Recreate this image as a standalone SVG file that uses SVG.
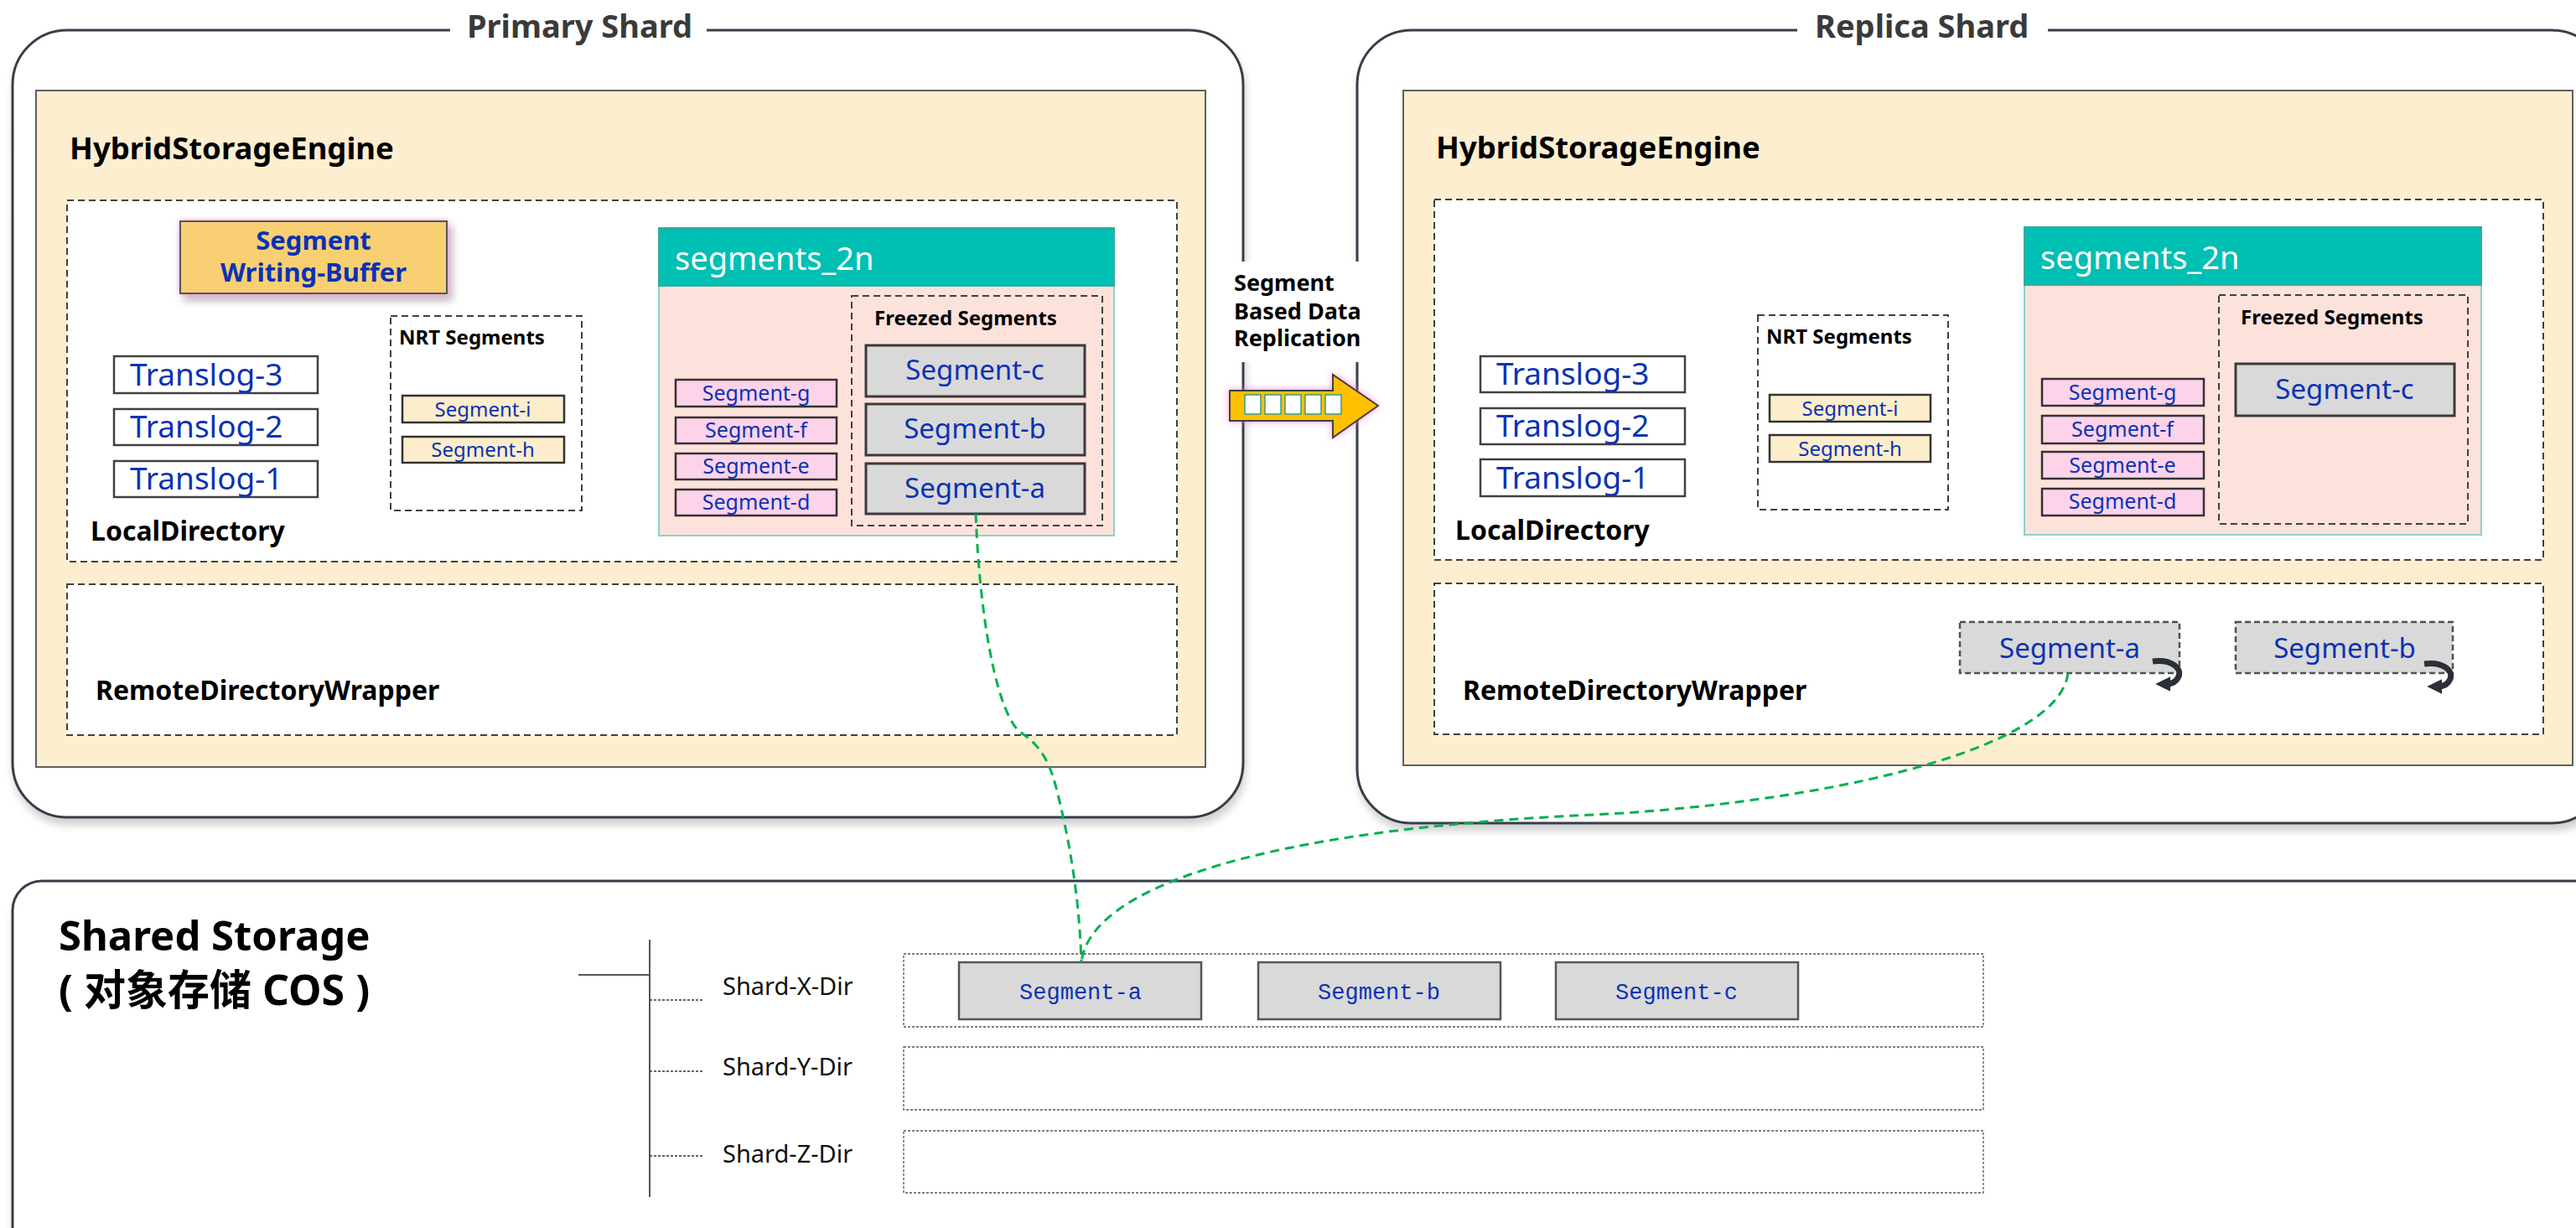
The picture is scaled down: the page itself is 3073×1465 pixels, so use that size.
<svg xmlns="http://www.w3.org/2000/svg" width="3073" height="1465" viewBox="0 0 3073 1465">
<defs>
<filter id="sh" x="-5%" y="-5%" width="110%" height="115%">
<feDropShadow dx="2" dy="8" stdDeviation="5" flood-color="#000" flood-opacity="0.18"/>
</filter>
<filter id="glow" x="-20%" y="-30%" width="140%" height="160%">
<feDropShadow dx="0" dy="0" stdDeviation="3" flood-color="#f06ccf" flood-opacity="0.6"/>
<feDropShadow dx="5" dy="7" stdDeviation="4" flood-color="#000" flood-opacity="0.3"/>
</filter>
<filter id="pglow" x="-20%" y="-30%" width="140%" height="160%">
<feDropShadow dx="0" dy="0" stdDeviation="4" flood-color="#f06ccf" flood-opacity="0.7"/>
</filter>
<marker id="rot" viewBox="0 0 10 10" refX="3" refY="5" markerWidth="2.6" markerHeight="2.6" orient="auto">
<path d="M0,0 L10,5 L0,10 Z" fill="#2b2f38"/>
</marker>
<style>
.outer{fill:#fff;stroke:#383d48;stroke-width:3}
.hse{fill:#fdeecf;stroke:#5f5f5f;stroke-width:2}
.dash{fill:#fff;stroke:#404040;stroke-width:2;stroke-dasharray:8 5}
.dashn{fill:none;stroke:#404040;stroke-width:2;stroke-dasharray:8 5}
.tl{fill:#fff;stroke:#404040;stroke-width:2.5}
.nrt{fill:#fdeecb;stroke:#333;stroke-width:2.5}
.pk{fill:#fdd3ea;stroke:#333;stroke-width:2.5}
.gr{fill:#d9d9d9;stroke:#3a3a3a;stroke-width:3}
.grd{fill:#d9d9d9;stroke:#505050;stroke-width:2.5;stroke-dasharray:7 4}
.hdr{fill:#00bfb3;stroke:#3aa89c;stroke-width:2}
.bdy{fill:#fde2dc;stroke:#8fd0c6;stroke-width:2}
.dir{fill:none;stroke:#555;stroke-width:1.3;stroke-dasharray:3 2}
.cseg{fill:#d9d9d9;stroke:#555;stroke-width:2.5}
.t{font-family:'Noto Sans','Open Sans','Noto Sans CJK SC',sans-serif}
.b{font-weight:bold;fill:#000}
.blue{fill:#0a32b4}
.title{font-size:38px;font-weight:bold;fill:#3a3a3a}
.h1{font-size:36.5px}
.h2{font-size:32px}
.h3{font-size:24px}
.tlt{font-size:37px}
.s24{font-size:24px}
.s25{font-size:25px}
.s33{font-size:33px}
.mono{font-family:'Liberation Mono','DejaVu Sans Mono',monospace;font-size:27px;fill:#0a32b4}
.mid{text-anchor:middle}
.rota{fill:none;stroke:#2b2f38;stroke-width:7;stroke-linecap:butt}
.conn{fill:none;stroke:#00b050;stroke-width:3;stroke-dasharray:11 7}
</style>
</defs>
<rect width="3073" height="1465" fill="#fff"/>

<!-- Primary Shard -->
<g id="primary-shard">
<rect class="outer" x="15" y="36" width="1468" height="939" rx="65" filter="url(#sh)"/>
<rect x="537" y="14" width="306" height="46" fill="#fff"/>
<text class="t title" x="557" y="45">Primary Shard</text>
</g>
<g id="primary-hse">
<rect class="hse" x="43" y="108" width="1395" height="807"/>
<text class="t b h1" x="83" y="190">HybridStorageEngine</text>
</g>
<g id="primary-localdir">
<rect class="dash" x="80" y="239" width="1324" height="431"/>
<text class="t b h2" x="108" y="645">LocalDirectory</text>
</g>
<g id="primary-writebuffer">
<rect x="215" y="264" width="318" height="86" fill="#f9cf73" stroke="#555" stroke-width="2" filter="url(#glow)"/>
<text class="t b blue mid" x="374" y="298" font-size="31">Segment</text>
<text class="t b blue mid" x="374" y="336" font-size="31">Writing-Buffer</text>
</g>
<g id="primary-translogs">
<rect class="tl" x="136" y="425" width="243" height="44"/>
<text class="t blue tlt" x="155" y="460">Translog-3</text>
<rect class="tl" x="136" y="488" width="243" height="43"/>
<text class="t blue tlt" x="155" y="522">Translog-2</text>
<rect class="tl" x="136" y="550" width="243" height="43"/>
<text class="t blue tlt" x="155" y="584">Translog-1</text>
</g>
<g id="primary-nrt">
<rect class="dash" x="466" y="377" width="228" height="232"/>
<text class="t b h3" x="476" y="411">NRT Segments</text>
<rect class="nrt" x="480" y="472" width="193" height="32"/>
<text class="t blue s24 mid" x="576" y="497">Segment-i</text>
<rect class="nrt" x="480" y="521" width="193" height="31"/>
<text class="t blue s24 mid" x="576" y="545">Segment-h</text>
</g>
<g id="primary-segments2n">
<rect class="bdy" x="786" y="341" width="543" height="298"/>
<rect class="hdr" x="786" y="272" width="543" height="69"/>
<text class="t" x="805" y="322" font-size="38" fill="#fff">segments_2n</text>
<rect class="pk" x="806" y="453" width="192" height="32"/>
<text class="t blue s25 mid" x="902" y="478">Segment-g</text>
<rect class="pk" x="806" y="498" width="192" height="31"/>
<text class="t blue s25 mid" x="902" y="522">Segment-f</text>
<rect class="pk" x="806" y="541" width="192" height="31"/>
<text class="t blue s25 mid" x="902" y="565">Segment-e</text>
<rect class="pk" x="806" y="584" width="192" height="31"/>
<text class="t blue s25 mid" x="902" y="608">Segment-d</text>
</g>
<g id="primary-freezed">
<rect class="dashn" x="1016" y="353" width="299" height="274"/>
<text class="t b h3" x="1043" y="388">Freezed Segments</text>
<rect class="gr" x="1033" y="412" width="261" height="61"/>
<text class="t blue s33 mid" x="1163" y="453">Segment-c</text>
<rect class="gr" x="1033" y="482" width="261" height="61"/>
<text class="t blue s33 mid" x="1163" y="523">Segment-b</text>
<rect class="gr" x="1033" y="553" width="261" height="60"/>
<text class="t blue s33 mid" x="1163" y="594">Segment-a</text>
</g>
<g id="primary-remotedir">
<rect class="dash" x="80" y="697" width="1324" height="180"/>
<text class="t b h2" x="114" y="835">RemoteDirectoryWrapper</text>
</g>

<!-- Replica Shard -->
<g id="replica-shard">
<rect class="outer" x="1619" y="36" width="1490" height="946" rx="65" filter="url(#sh)"/>
<rect x="2144" y="14" width="299" height="46" fill="#fff"/>
<text class="t title" x="2165" y="45">Replica Shard</text>
</g>
<g id="replica-hse">
<rect class="hse" x="1674" y="108" width="1395" height="805"/>
<text class="t b h1" x="1713" y="189">HybridStorageEngine</text>
</g>
<g id="replica-localdir">
<rect class="dash" x="1711" y="238" width="1323" height="430"/>
<text class="t b h2" x="1736" y="644">LocalDirectory</text>
</g>
<g id="replica-translogs">
<rect class="tl" x="1766" y="425" width="244" height="43"/>
<text class="t blue tlt" x="1785" y="459">Translog-3</text>
<rect class="tl" x="1766" y="487" width="244" height="43"/>
<text class="t blue tlt" x="1785" y="521">Translog-2</text>
<rect class="tl" x="1766" y="548" width="244" height="44"/>
<text class="t blue tlt" x="1785" y="583">Translog-1</text>
</g>
<g id="replica-nrt">
<rect class="dash" x="2097" y="376" width="227" height="232"/>
<text class="t b h3" x="2107" y="410">NRT Segments</text>
<rect class="nrt" x="2111" y="471" width="192" height="32"/>
<text class="t blue s24 mid" x="2207" y="496">Segment-i</text>
<rect class="nrt" x="2111" y="519" width="192" height="32"/>
<text class="t blue s24 mid" x="2207" y="544">Segment-h</text>
</g>
<g id="replica-segments2n">
<rect class="bdy" x="2415" y="340" width="545" height="298"/>
<rect class="hdr" x="2415" y="271" width="545" height="69"/>
<text class="t" x="2434" y="321" font-size="38" fill="#fff">segments_2n</text>
<rect class="pk" x="2436" y="452" width="193" height="32"/>
<text class="t blue s25 mid" x="2532" y="477">Segment-g</text>
<rect class="pk" x="2436" y="496" width="193" height="33"/>
<text class="t blue s25 mid" x="2532" y="521">Segment-f</text>
<rect class="pk" x="2436" y="539" width="193" height="32"/>
<text class="t blue s25 mid" x="2532" y="564">Segment-e</text>
<rect class="pk" x="2436" y="583" width="193" height="32"/>
<text class="t blue s25 mid" x="2532" y="607">Segment-d</text>
</g>
<g id="replica-freezed">
<rect class="dashn" x="2647" y="352" width="297" height="273"/>
<text class="t b h3" x="2673" y="387">Freezed Segments</text>
<rect class="gr" x="2667" y="434" width="261" height="62"/>
<text class="t blue s33 mid" x="2797" y="476">Segment-c</text>
</g>
<g id="replica-remotedir">
<rect class="dash" x="1711" y="696" width="1323" height="180"/>
<text class="t b h2" x="1745" y="835">RemoteDirectoryWrapper</text>
</g>
<g id="replica-remote-segment-a">
<rect class="grd" x="2338" y="742" width="262" height="61"/>
<text class="t blue s33 mid" x="2469" y="785">Segment-a</text>
<path class="rota" d="M2568,789 C2590,786 2603,797 2599,807 C2596,814 2590,816 2584,816" marker-end="url(#rot)"/>
</g>
<g id="replica-remote-segment-b">
<rect class="grd" x="2667" y="742" width="259" height="61"/>
<text class="t blue s33 mid" x="2797" y="785">Segment-b</text>
<path class="rota" d="M2892,792 C2914,789 2927,800 2923,810 C2920,817 2914,819 2908,819" marker-end="url(#rot)"/>
</g>

<!-- Replication label and arrow -->
<g id="replication">
<rect x="1462" y="312" width="198" height="120" fill="#fff"/>
<text class="t b" font-size="27" x="1472" y="347">Segment</text>
<text class="t b" font-size="27" x="1472" y="381">Based Data</text>
<text class="t b" font-size="27" x="1472" y="413">Replication</text>
<polygon points="1467,466 1590,466 1590,447 1644,484 1590,522 1590,502 1467,502" fill="#ffc000" stroke="#404040" stroke-width="2" filter="url(#pglow)"/>
<g fill="#fff" stroke="#2e9e8a" stroke-width="1.5">
<rect x="1485" y="471" width="19" height="23"/>
<rect x="1509" y="471" width="19" height="23"/>
<rect x="1533" y="471" width="19" height="23"/>
<rect x="1557" y="471" width="19" height="23"/>
<rect x="1581" y="471" width="19" height="23"/>
</g>
</g>

<!-- Shared Storage -->
<g id="shared-storage">
<rect class="outer" x="15" y="1051" width="3100" height="450" rx="35" filter="url(#sh)"/>
<text class="t b" font-size="49" x="70" y="1134">Shared Storage</text>
<text class="t b" font-size="50" x="70" y="1199">( 对象存储 COS )</text>
</g>
<g id="cos-tree" stroke="#555">
<line x1="690" y1="1163" x2="775" y2="1163" stroke-width="2"/>
<line x1="775" y1="1121" x2="775" y2="1428" stroke-width="2"/>
<g stroke="#333" stroke-width="1.5" stroke-dasharray="3 2">
<line x1="775" y1="1193" x2="840" y2="1193"/>
<line x1="775" y1="1278" x2="840" y2="1278"/>
<line x1="775" y1="1379" x2="840" y2="1379"/>
</g>
</g>
<g id="shard-x-dir">
<text class="t" font-size="29" fill="#111" x="862" y="1187">Shard-X-Dir</text>
<rect class="dir" x="1078" y="1138" width="1288" height="87"/>
<rect class="cseg" x="1144" y="1148" width="289" height="68"/>
<text class="mono mid" x="1289" y="1192">Segment-a</text>
<rect class="cseg" x="1501" y="1148" width="289" height="68"/>
<text class="mono mid" x="1645" y="1192">Segment-b</text>
<rect class="cseg" x="1856" y="1148" width="289" height="68"/>
<text class="mono mid" x="2000" y="1192">Segment-c</text>
</g>
<g id="shard-y-dir">
<text class="t" font-size="29" fill="#111" x="862" y="1283">Shard-Y-Dir</text>
<rect class="dir" x="1078" y="1249" width="1288" height="75"/>
</g>
<g id="shard-z-dir">
<text class="t" font-size="29" fill="#111" x="862" y="1387">Shard-Z-Dir</text>
<rect class="dir" x="1078" y="1349" width="1288" height="74"/>
</g>

<!-- Connectors -->
<g id="connectors">
<path class="conn" d="M1164,613 C1168,720 1185,840 1215,872 C1235,885 1250,900 1260,940 C1278,1010 1288,1080 1290,1148"/>
<path class="conn" d="M2467,803 C2455,900 2150,960 1900,972 C1500,990 1300,1060 1290,1148"/>
</g>
</svg>
